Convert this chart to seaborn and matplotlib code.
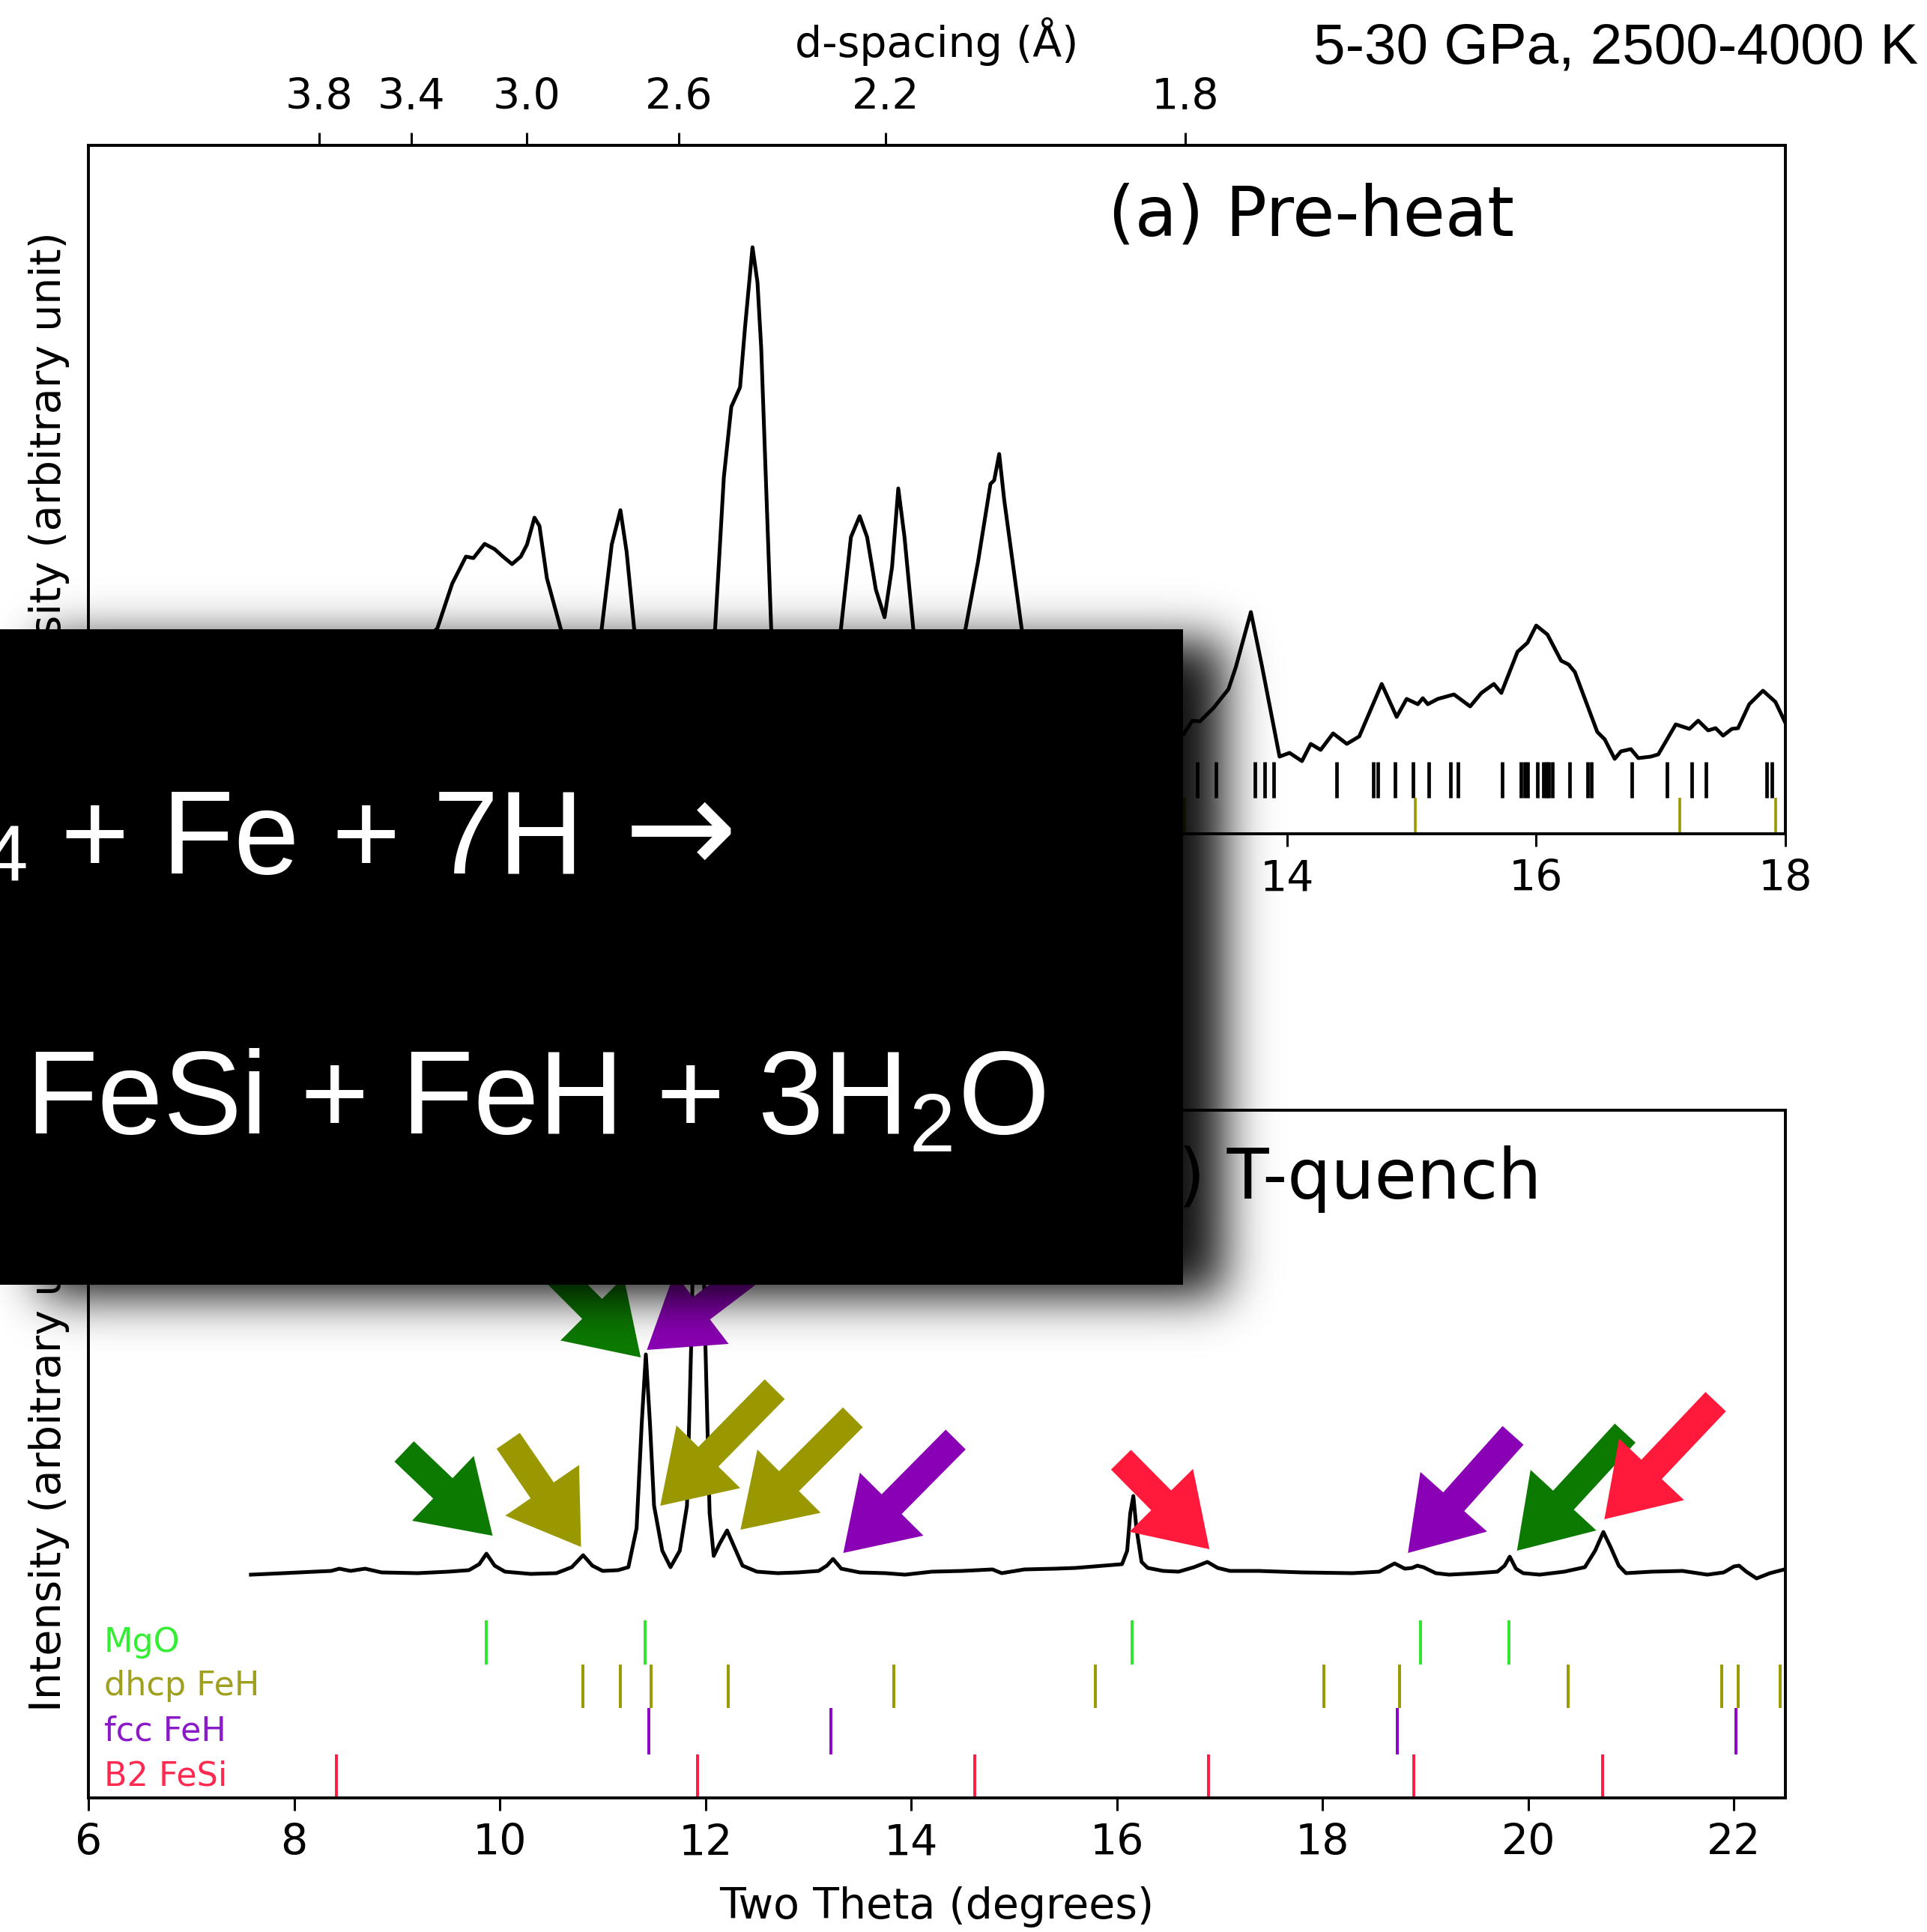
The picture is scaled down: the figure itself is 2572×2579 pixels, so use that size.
import math
import numpy as np
import matplotlib
matplotlib.use("Agg")
import matplotlib.pyplot as plt
from matplotlib.patches import Rectangle
import seaborn as sns

plt.rcParams["font.family"] = ["DejaVu Sans"]
plt.rcParams["mathtext.default"] = "regular"

# ---------------- data ----------------
WAVELENGTH = 0.4133  # X-ray wavelength (Angstrom)

# (a) pre-heat pattern: two-theta (deg) and intensity (arb.)
tth_pre = [5.60, 6.00, 6.40, 6.80, 7.00, 7.18, 7.30, 7.41, 7.47, 7.56,
           7.64, 7.70, 7.78, 7.85, 7.90, 7.96, 8.00, 8.06, 8.17, 8.28,
           8.40, 8.50, 8.58, 8.65, 8.70, 8.76, 8.90, 9.10, 9.30, 9.41,
           9.48, 9.54, 9.61, 9.65, 9.71, 9.75, 9.78, 9.86, 9.95, 10.15,
           10.32, 10.42, 10.50, 10.57, 10.63, 10.70, 10.77, 10.83, 10.88, 10.93,
           11.00, 11.10, 11.30, 11.42, 11.52, 11.62, 11.65, 11.69, 11.73, 11.87,
           11.95, 12.20, 12.60, 12.90, 13.17, 13.24, 13.30, 13.41, 13.53, 13.59,
           13.71, 13.80, 13.94, 14.02, 14.12, 14.19, 14.27, 14.37, 14.48, 14.58,
           14.76, 14.88, 14.96, 15.05, 15.09, 15.13, 15.21, 15.34, 15.47, 15.56,
           15.66, 15.72, 15.85, 15.93, 16.00, 16.09, 16.20, 16.26, 16.31, 16.49,
           16.55, 16.63, 16.68, 16.76, 16.82, 16.92, 16.98, 17.12, 17.23, 17.30,
           17.38, 17.44, 17.50, 17.57, 17.62, 17.71, 17.82, 17.92, 18.00]
int_pre = [40, 55, 75, 120, 150, 178, 238, 274, 272, 291,
           284, 275, 264, 274, 290, 326, 315, 245, 178, 120,
           110, 178, 290, 336, 280, 178, 110, 100, 120, 178,
           380, 474, 500, 580, 687, 640, 552, 178, 110, 95,
           120, 178, 300, 328, 300, 230, 193, 260, 365, 300,
           178, 120, 125, 178, 267, 371, 376, 411, 350, 178,
           120, 95, 80, 50, 37, 55, 54, 72, 97, 127,
           200, 127, 7, 12, 1, 24, 16, 38, 24, 34,
           104, 60, 84, 77, 85, 77, 84, 90, 74, 92,
           104, 92, 147, 159, 182, 170, 135, 130, 120, 40,
           30, 4, 14, 17, 5, 7, 10, 50, 44, 55,
           42, 45, 35, 44, 45, 77, 95, 80, 52]

# reference reflections shown under the pre-heat pattern
ref_pre_black = [13.28, 13.43, 13.74, 13.82, 13.89, 14.40, 14.69, 14.73, 14.87, 15.01,
                 15.14, 15.31, 15.37, 15.73, 15.88, 15.91, 15.93, 16.01, 16.06, 16.08,
                 16.10, 16.13, 16.27, 16.41, 16.44, 16.77, 17.05, 17.25, 17.36, 17.85,
                 17.89]
ref_pre_olive = [13.18, 15.03, 17.15, 17.92]

# (b) temperature-quenched pattern
tth_quench = [7.58, 7.90, 8.20, 8.36, 8.44, 8.55, 8.69, 8.85, 9.20, 9.50,
              9.70, 9.80, 9.87, 9.95, 10.05, 10.30, 10.55, 10.70, 10.81, 10.90,
              11.00, 11.15, 11.25, 11.33, 11.38, 11.42, 11.46, 11.50, 11.58, 11.66,
              11.75, 11.82, 11.86, 11.90, 11.93, 11.96, 12.00, 12.04, 12.08, 12.14,
              12.21, 12.28, 12.36, 12.50, 12.70, 12.90, 13.10, 13.18, 13.24, 13.32,
              13.50, 13.75, 13.94, 14.20, 14.50, 14.79, 14.88, 15.10, 15.40, 15.60,
              15.87, 16.05, 16.10, 16.13, 16.16, 16.19, 16.24, 16.30, 16.45, 16.60,
              16.75, 16.88, 16.98, 17.10, 17.38, 17.80, 18.29, 18.55, 18.70, 18.80,
              18.87, 18.92, 18.98, 19.10, 19.23, 19.50, 19.70, 19.77, 19.82, 19.88,
              19.95, 20.11, 20.35, 20.55, 20.65, 20.73, 20.80, 20.88, 20.95, 21.20,
              21.50, 21.74, 21.90, 22.00, 22.05, 22.12, 22.22, 22.35, 22.49]
int_quench = [-2, 0, 2, 3, 6, 3, 6, 1, 0, 2,
              4, 12, 26, 10, 2, -1, 0, 8, 24, 10,
              3, 4, 8, 60, 200, 292, 200, 90, 30, 8,
              30, 90, 300, 560, 600, 560, 300, 80, 23, 40,
              57, 35, 10, 2, 0, 1, 3, 10, 19, 6,
              1, 0, -2, 2, 3, 5, 0, 5, 6, 7,
              10, 12, 30, 80, 103, 60, 15, 7, 3, 2,
              8, 15, 7, 3, 3, 1, 0, 2, 13, 6,
              7, 10, 8, 0, -2, 0, 2, 10, 22, 6,
              0, -2, 2, 8, 30, 55, 35, 10, 0, 2,
              3, -2, 1, 9, 10, 2, -7, 0, 5]

# phase reflections (two-theta, deg)
mgo_peaks = [9.87, 11.41, 16.15, 18.95, 19.81]
dhcp_feh_peaks = [10.81, 11.17, 11.47, 12.22, 13.83, 15.79, 18.01, 18.75,
                  20.39, 21.88, 22.04, 22.45]
fcc_feh_peaks = [11.45, 13.22, 18.73, 22.02]
b2_fesi_peaks = [8.41, 11.92, 14.62, 16.89, 18.89, 20.72]
phase_names = ["MgO", "dhcp FeH", "fcc FeH", "B2 FeSi"]

d_ticks = [3.8, 3.4, 3.0, 2.6, 2.2, 1.8]
d_tick_labels = ["3.8", "3.4", "3.0", "2.6", "2.2", "1.8"]

# phase-identification arrows: tip (deg, intensity), phase
arrow_tip_x = [9.93, 10.79, 11.37, 11.43, 11.56, 12.34, 13.34, 16.90, 18.83, 19.89, 20.74]
arrow_tip_y = [50, 35, 288, 298, 90, 58, 27, 32, 27, 30, 72]
arrow_phase = ["MgO", "dhcp FeH", "MgO", "fcc FeH", "dhcp FeH", "dhcp FeH",
               "fcc FeH", "B2 FeSi", "fcc FeH", "MgO", "B2 FeSi"]
# tail offsets of the arrows (points, relative to the tip)
arrow_tail_dx = [-85, -70, -100, 105, 110, 108, 108, -85, 101, 104, 107]
arrow_tail_dy = [81, 102, 100, 80, 112, 108, 109, 86, 113, 113, 113]

# ---------------- styling ----------------
tick_colors = {"MgO": "#2ee62e", "dhcp FeH": "#999900",
               "fcc FeH": "#8a00c8", "B2 FeSi": "#ff1a44"}
label_colors = {"MgO": "#33ee33", "dhcp FeH": "#a0a020",
                "fcc FeH": "#8a1ac8", "B2 FeSi": "#ff2a50"}
arrow_colors = {"MgO": "#0c7a00", "dhcp FeH": "#9a9800",
                "fcc FeH": "#8a00b4", "B2 FeSi": "#ff1a3c"}
SANS = ["Liberation Sans", "DejaVu Sans"]

W, H = 2572, 2579
fig = plt.figure(figsize=(W / 100, H / 100), dpi=100)
ax_top = fig.add_axes([118 / W, 1 - 1113 / H, 2265 / W, 919 / H])
ax_bot = fig.add_axes([118 / W, 1 - 2400 / H, 2265 / W, 918 / H])

for ax in (ax_top, ax_bot):
    for sp in ax.spines.values():
        sp.set_linewidth(2.8)
    ax.set_yticks([])
    ax.tick_params(axis="x", length=12, width=2.2, labelsize=41, pad=12,
                   colors="black")
    ax.set_ylabel("Intensity (arbitrary unit)", fontsize=41)
    ax.yaxis.set_label_coords(-0.011, 0.5)

# ---- (a) pre-heat ----
sns.lineplot(x=tth_pre, y=int_pre, ax=ax_top, color="black", linewidth=3.6,
             estimator=None, sort=False)
ax_top.vlines(ref_pre_black, -48, 0, colors="black", linewidth=3.4)
ax_top.vlines(ref_pre_olive, -96, -48, colors="#9a9a00", linewidth=2.6)
ax_top.set_xlim(4.38, 18)
ax_top.set_ylim(-96, 823)
ax_top.set_xticks([14, 16, 18])
ax_top.set_xlabel("")
ax_top.text(0.601, 0.869, "(a) Pre-heat", transform=ax_top.transAxes,
            fontsize=66, ha="left", va="baseline")


def tth_to_d(t):
    t = np.clip(np.asarray(t, dtype=float), 0.05, 179.0)
    return WAVELENGTH / (2.0 * np.sin(np.radians(t / 2.0)))


def d_to_tth(d):
    d = np.clip(np.asarray(d, dtype=float), 1e-3, None)
    r = np.clip(WAVELENGTH / (2.0 * d), -1.0, 1.0)
    return 2.0 * np.degrees(np.arcsin(r))


secax = ax_top.secondary_xaxis("top", functions=(tth_to_d, d_to_tth))
secax.set_xticks(d_ticks)
secax.set_xticklabels(d_tick_labels)
secax.tick_params(axis="x", length=12, width=2.2, labelsize=41, pad=14)
for sp in secax.spines.values():
    sp.set_linewidth(2.8)
secax.set_xlabel("d-spacing (Å)", fontsize=41)
secax.xaxis.set_label_coords(0.5, 1.151, transform=ax_top.transAxes)
secax.xaxis.label.set_va("center")

# ---- (b) T-quench ----
sns.lineplot(x=tth_quench, y=int_quench, ax=ax_bot, color="black", linewidth=3.6,
             estimator=None, sort=False)
row_bounds = [(-122, -63), (-180, -122), (-242, -180), (-300, -242)]
phase_peaks = [mgo_peaks, dhcp_feh_peaks, fcc_feh_peaks, b2_fesi_peaks]
for name, peaks, (lo, hi) in zip(phase_names, phase_peaks, row_bounds):
    ax_bot.vlines(peaks, lo, hi, colors=tick_colors[name], linewidth=2.8)
    ax_bot.text(6.15, (lo + hi) / 2, name, color=label_colors[name], fontsize=32,
                ha="left", va="center")

for x, y, dx, dy, ph in zip(arrow_tip_x, arrow_tip_y, arrow_tail_dx,
                            arrow_tail_dy, arrow_phase):
    ax_bot.annotate("", xy=(x, y), xytext=(dx, dy), textcoords="offset points",
                    arrowprops=dict(arrowstyle="simple,head_length=0.66,"
                                               "head_width=0.86,tail_width=0.27",
                                    mutation_scale=100, fc=arrow_colors[ph],
                                    ec="none", shrinkA=0, shrinkB=0),
                    zorder=5)

ax_bot.set_xlim(6, 22.5)
ax_bot.set_ylim(-300, 618)
ax_bot.set_xticks(np.arange(6, 23, 2))
ax_bot.set_xlabel("Two Theta (degrees)", fontsize=41)
ax_bot.xaxis.set_label_coords(0.5, -0.128)
ax_bot.text(0.601, 0.8715, "(b) T-quench", transform=ax_bot.transAxes,
            fontsize=66, ha="left", va="baseline")

# ---- overlay: reaction panel with drop shadow ----
ov = fig.add_axes([0, 0, 1, 1], zorder=20)
ov.patch.set_alpha(0)
ov.axis("off")

box_x0, box_x1, box_y0, box_y1 = 0, 1579, 840, 1715
sh_dx, sh_dy, sh_sigma, sh_alpha = 55, 15, 32.0, 0.95
erf = np.vectorize(math.erf)
xs = np.arange(0, 1800) + 0.5
ys = np.arange(700, 1900) + 0.5
k = math.sqrt(2.0) * sh_sigma
fx = 0.5 * (erf((xs - (box_x0 + sh_dx)) / k) - erf((xs - (box_x1 + sh_dx)) / k))
fy = 0.5 * (erf((ys - (box_y0 + sh_dy)) / k) - erf((ys - (box_y1 + sh_dy)) / k))
shadow = np.zeros((ys.size, xs.size, 4), dtype=np.float32)
shadow[..., 3] = sh_alpha * fy[:, None] * fx[None, :]
ov.imshow(shadow, extent=(0, 1800, 1900, 700), origin="upper",
          interpolation="bilinear", aspect="auto", zorder=1)
ov.add_patch(Rectangle((box_x0, box_y0), box_x1 - box_x0, box_y1 - box_y0,
                       facecolor="black", edgecolor="none", zorder=2))
ov.set_xlim(0, W)
ov.set_ylim(H, 0)

ov.text(37, 1176, "4", color="white", fontsize=76, family=SANS,
        ha="right", va="baseline", zorder=3)
ov.text(81, 1166, "+ Fe + 7H", color="white", fontsize=113, family=SANS,
        ha="left", va="baseline", zorder=3)
ov.text(833, 1166, "→", color="white", fontsize=130, family="DejaVu Sans",
        ha="left", va="baseline", zorder=3)
ov.text(34, 1513, "FeSi + FeH + 3H$_2$O", color="white", fontsize=113,
        family="Liberation Sans", ha="left", va="baseline", zorder=3)

ov.text(2560, 85, "5-30 GPa, 2500-4000 K", color="black", fontsize=55,
        family=SANS, ha="right", va="baseline", zorder=3)

fig.savefig("out.png", dpi=100)
